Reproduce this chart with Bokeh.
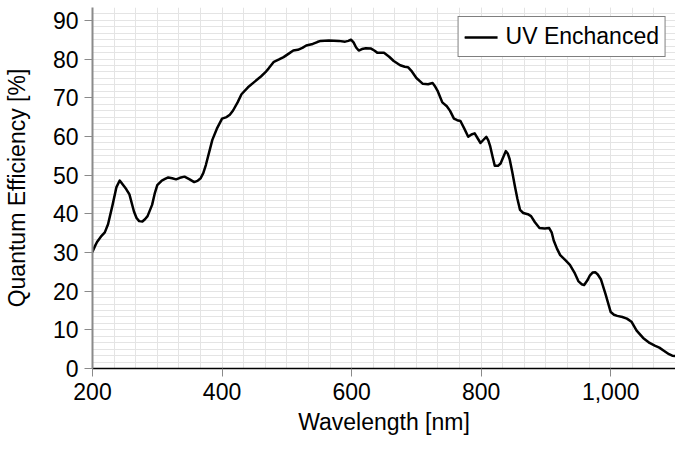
from bokeh.plotting import figure
from bokeh.models import SingleIntervalTicker, NumeralTickFormatter, Range1d
from bokeh.embed import file_html
from bokeh.resources import INLINE

# Wavelength [nm] and quantum efficiency [%]
wavelength = [200, 204, 207, 214, 219, 224, 231, 237, 242, 247, 252, 257, 264, 268,
              272, 277, 281, 285, 292, 296, 300, 307, 312, 317, 323, 329, 335, 342,
              350, 357, 362, 367, 371, 375, 385, 392, 400, 407, 412, 417, 424, 430,
              440, 450, 460, 467, 472, 480, 488, 495, 503, 510, 517, 524, 530, 540,
              547, 552, 565, 580, 590, 595, 599, 603, 607, 611, 616, 622, 630, 635,
              640, 650, 658, 665, 675, 682, 687, 693, 700, 710, 718, 725, 729, 733,
              740, 747, 752, 758, 763, 768, 774, 780, 785, 790, 795, 799, 804, 808,
              811, 814, 818, 821, 826, 830, 834, 838, 841, 844, 848, 852, 856, 860,
              865, 872, 877, 883, 890, 898, 905, 909, 912, 917, 922, 930, 937, 944,
              950, 955, 959, 964, 968, 972, 976, 980, 985, 992, 1000, 1005, 1010,
              1018, 1025, 1032, 1040, 1050, 1060, 1068, 1075, 1082, 1090, 1095, 1100]
efficiency = [30.2, 31.7, 32.7, 34.3, 35.2, 37.3, 42.3, 46.9, 48.6, 47.5, 46.4, 45.0,
              40.6, 38.9, 38.1, 38.0, 38.6, 39.4, 42.3, 45.2, 47.4, 48.6, 49.0, 49.4,
              49.2, 48.9, 49.3, 49.6, 48.9, 48.2, 48.5, 49.2, 50.5, 52.6, 59.1, 62.0,
              64.6, 65.0, 65.6, 66.7, 68.8, 70.9, 72.7, 74.1, 75.5, 76.6, 77.6, 79.3,
              79.9, 80.5, 81.4, 82.2, 82.4, 82.9, 83.5, 83.9, 84.4, 84.7, 84.8, 84.7,
              84.5, 84.7, 85.0, 84.3, 83.0, 82.2, 82.6, 82.8, 82.7, 82.2, 81.6, 81.6,
              80.6, 79.5, 78.4, 78.0, 77.9, 76.8, 75.1, 73.6, 73.5, 73.8, 72.9, 71.7,
              68.8, 67.8, 66.6, 64.6, 64.2, 64.0, 62.0, 59.9, 60.5, 60.8, 59.4, 58.3,
              59.2, 59.9, 59.0, 57.4, 54.5, 52.4, 52.4, 53.0, 54.6, 56.2, 55.6, 54.1,
              50.8, 47.2, 43.8, 41.0, 40.2, 39.9, 39.4, 37.8, 36.3, 36.2, 36.3, 35.1,
              33.1, 31.0, 29.3, 28.0, 26.8, 24.8, 22.6, 21.8, 21.6, 22.8, 24.1, 24.8,
              24.9, 24.3, 23.0, 19.2, 14.6, 13.9, 13.6, 13.3, 12.9, 12.1, 9.8, 7.9,
              6.6, 5.9, 5.4, 4.6, 3.7, 3.3, 3.2]
series_name = "UV Enchanced"
x_label = "Wavelength [nm]"
y_label = "Quantum Efficiency [%]"

FONT = "Liberation Sans"
GRID = "#e4e4e4"

p = figure(width=675, height=437, output_backend="svg", toolbar_location=None,
           x_range=Range1d(200, 1100), y_range=Range1d(0, 93.33),
           min_border_left=90, min_border_right=0, min_border_top=7,
           background_fill_color="white", border_fill_color="white")
p.outline_line_color = None

p.line(wavelength, efficiency, line_color="black", line_width=2.5,
       line_join="round", line_cap="round", legend_label=series_name)

# axes
p.xaxis.ticker = SingleIntervalTicker(interval=200, num_minor_ticks=6)
p.yaxis.ticker = SingleIntervalTicker(interval=10, num_minor_ticks=6)
p.xaxis.formatter = NumeralTickFormatter(format="0,0")
for ax in (p.xaxis, p.yaxis):
    ax.axis_label_text_font = FONT
    ax.axis_label_text_font_size = "23px"
    ax.axis_label_text_font_style = "normal"
    ax.axis_label_text_color = "black"
    ax.major_label_text_font = FONT
    ax.major_label_text_font_size = "23px"
    ax.major_label_text_color = "black"
    ax.minor_tick_line_color = None
    ax.major_tick_in = 0
    ax.major_tick_out = 8
    ax.major_tick_line_color = "#8a8a8a"
    ax.major_label_standoff = 6
p.xaxis.axis_label_standoff = 6
p.yaxis.axis_label_standoff = 20
p.xaxis.axis_label = x_label
p.yaxis.axis_label = y_label
p.xaxis.axis_line_color = "black"
p.xaxis.axis_line_width = 1.5
p.yaxis.axis_line_color = "#8a8a8a"
p.yaxis.axis_line_width = 2

# grid
for g in (p.xgrid, p.ygrid):
    g.grid_line_color = GRID
    g.grid_line_width = 1
    g.minor_grid_line_color = GRID
    g.minor_grid_line_width = 1

# legend
lg = p.legend[0]
lg.location = "top_right"
lg.margin = 9
lg.padding = 6
lg.label_text_font = FONT
lg.label_text_font_size = "23px"
lg.label_text_color = "black"
lg.glyph_width = 33
lg.label_standoff = 8
lg.border_line_color = "black"
lg.border_line_width = 1
lg.background_fill_alpha = 1

open("out.html", "w").write(file_html(p, INLINE))
